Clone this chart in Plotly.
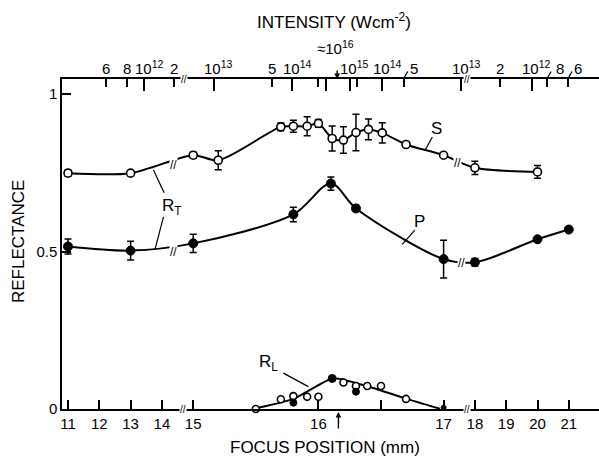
import plotly.graph_objects as go

# ---------------- data (focus position in mm, reflectance) ----------------
S_x = [11, 13, 15, 15.2, 15.70, 15.80, 15.91, 16.00, 16.11, 16.20, 16.30, 16.40, 16.51, 16.70, 17.0, 18, 20]
S_y = [0.749, 0.749, 0.806, 0.790, 0.896, 0.898, 0.898, 0.907, 0.859, 0.854, 0.878, 0.888, 0.877, 0.840, 0.806, 0.766, 0.753]
S_err = [0.010, 0.008, 0.010, 0.030, 0.012, 0.019, 0.030, 0.012, 0.040, 0.042, 0.058, 0.033, 0.032, 0, 0, 0.021, 0.020]

P_x = [11, 13, 15, 15.80, 16.10, 16.30, 17.0, 18, 20, 21]
P_y = [0.516, 0.503, 0.526, 0.618, 0.716, 0.637, 0.476, 0.466, 0.539, 0.570]
P_err = [0.024, 0.030, 0.029, 0.023, 0.021, 0.010, 0.060, 0.012, 0, 0]

RL_open_x = [15.5, 15.70, 15.80, 15.91, 16.0, 16.20, 16.30, 16.39, 16.50, 16.70]
RL_open_y = [0.0, 0.031, 0.041, 0.039, 0.039, 0.084, 0.073, 0.073, 0.073, 0.032]
RL_fill_x = [15.80, 16.11, 16.30, 17.0]
RL_fill_y = [0.020, 0.097, 0.055, 0.004]
RL_fit_x = [15.52, 15.80, 16.11, 16.23, 16.41, 16.70, 16.97]
RL_fit_y = [0.004, 0.032, 0.097, 0.090, 0.070, 0.033, 0.001]

# bottom axis ticks (mm)
bottom_ticks = [11, 12, 13, 14, 15, 16, 16.5, 17, 18, 19, 20, 21]
bottom_labels = ["11", "12", "13", "14", "15", "16", "", "17", "18", "19", "20", "21"]

# top intensity axis: focus position (mm) of each intensity tick
top_major = [13.43, 15.166, 15.79, 16.06, 16.25, 16.51, 17.56, 19.82]
top_minor = [12.21, 12.88, 14.39, 15.63, 16.0, 16.31, 16.68, 18.80, 20.30, 20.97]
top_label_pos = [12.21, 12.88, 13.43, 14.39, 15.166, 15.63, 15.79, 16.25, 16.51, 16.68, 17.56, 18.80, 19.82, 20.30, 20.97]
top_labels = ["6", "8", "10<sup>12</sup>", "2", "10<sup>13</sup>", "5", "10<sup>14</sup>",
              "10<sup>15</sup>", "10<sup>14</sup>", "5", "10<sup>13</sup>", "2", "10<sup>12</sup>", "8", "6"]
offset_labels = {16.68: 10, 20.30: 13, 20.97: 10}   # labels set aside with a slant leader


def fp(v):
    """Broken focus axis: 15-17 mm is expanded four times."""
    if isinstance(v, (list, tuple)):
        return [fp(a) for a in v]
    if v <= 15:
        return v
    if v <= 17:
        return 15 + 4 * (v - 15)
    return 23 + (v - 17)


FONT = "Liberation Sans, Arial, sans-serif"
BLACK = "black"

fig = go.Figure()

# fitted curves
fig.add_trace(go.Scatter(x=fp(S_x), y=S_y, mode="lines", line=dict(color=BLACK, width=2, shape="spline", smoothing=0.8),
                         hoverinfo="skip", showlegend=False))
fig.add_trace(go.Scatter(x=fp(P_x), y=P_y, mode="lines", line=dict(color=BLACK, width=2, shape="spline", smoothing=0.9),
                         hoverinfo="skip", showlegend=False))
fig.add_trace(go.Scatter(x=fp(RL_fit_x), y=RL_fit_y, mode="lines", line=dict(color=BLACK, width=2, shape="spline", smoothing=0.6),
                         hoverinfo="skip", showlegend=False))

err_style = dict(type="data", color=BLACK, thickness=1.5, width=3.5)

fig.add_trace(go.Scatter(x=fp(S_x), y=S_y, mode="markers", name="S",
                         error_y=dict(array=S_err, **err_style),
                         marker=dict(symbol="circle", size=8, color="white", line=dict(color=BLACK, width=1.6)),
                         cliponaxis=False, showlegend=False))
fig.add_trace(go.Scatter(x=fp(P_x), y=P_y, mode="markers", name="P",
                         error_y=dict(array=P_err, **err_style),
                         marker=dict(symbol="circle", size=9, color=BLACK, line=dict(color=BLACK, width=1)),
                         cliponaxis=False, showlegend=False))
fig.add_trace(go.Scatter(x=fp(RL_open_x), y=RL_open_y, mode="markers", name="RL open",
                         marker=dict(symbol="circle", size=7, color="white", line=dict(color=BLACK, width=1.6)),
                         cliponaxis=False, showlegend=False))
fig.add_trace(go.Scatter(x=fp(RL_fill_x), y=RL_fill_y, mode="markers", name="RL filled",
                         marker=dict(symbol="circle", size=[7, 8, 7, 5], color=BLACK, opacity=1,
                                     line=dict(color=BLACK, width=1)),
                         cliponaxis=False, showlegend=False))

# invisible trace to carry the top axis
fig.add_trace(go.Scatter(x=fp(top_label_pos), y=[0.5] * len(top_label_pos), xaxis="x2", mode="markers",
                         marker=dict(opacity=0), hoverinfo="skip", showlegend=False))

xr = [10.808, 27.965]
fig.update_layout(
    width=599, height=459,
    margin=dict(l=62, r=0, t=79, b=50, autoexpand=False),
    paper_bgcolor="white", plot_bgcolor="white",
    font=dict(family=FONT, size=14, color=BLACK),
    xaxis=dict(range=xr, showgrid=False, zeroline=False, showline=True, linecolor=BLACK, linewidth=1.5,
               ticks="inside", ticklen=9, tickwidth=1.5, tickcolor=BLACK, automargin=False,
               tickmode="array", tickvals=fp(bottom_ticks), ticktext=bottom_labels,
               tickfont=dict(family=FONT, size=15)),
    xaxis2=dict(range=xr, overlaying="x", side="top", anchor="y", showgrid=False, zeroline=False,
                showline=True, linecolor=BLACK, linewidth=1.5, automargin=False,
                ticks="inside", ticklen=12, tickwidth=1.5, tickcolor=BLACK,
                tickmode="array", tickvals=fp(top_major), showticklabels=False,
                minor=dict(tickmode="array", tickvals=fp(top_minor), ticks="inside", ticklen=8,
                           tickwidth=1.5, tickcolor=BLACK, showgrid=False)),
    yaxis=dict(range=[0, 1.048], showgrid=False, zeroline=False, showline=True, linecolor=BLACK, linewidth=1.5,
               ticks="inside", ticklen=9, tickwidth=1.5, tickcolor=BLACK, automargin=False,
               tickmode="array", tickvals=[0, 0.5, 1], ticktext=["0", "0.5", "1"],
               tickfont=dict(family=FONT, size=15)),
)

ann = []
# top intensity labels
for pos, lab in zip(top_label_pos, top_labels):
    if pos in offset_labels:
        shift = offset_labels[pos]
        ann.append(dict(x=fp(pos), y=1, xref="x", yref="paper", text="", showarrow=True, arrowhead=0,
                        arrowwidth=1.3, arrowcolor=BLACK, ax=5, ay=-9))
    else:
        shift = 5 if lab.startswith("10") else 0
    ann.append(dict(x=fp(pos), y=1, xref="x", yref="paper", text=lab, showarrow=False,
                    xanchor="center", yanchor="bottom", xshift=shift, yshift=0,
                    font=dict(family=FONT, size=15)))

# titles
ann.append(dict(x=0.5065, y=1.176, xref="paper", yref="paper", text="INTENSITY (Wcm<sup>-2</sup>)",
                xanchor="center", yanchor="middle", showarrow=False, font=dict(family=FONT, size=17)))
ann.append(dict(x=0.489, y=-0.118, xref="paper", yref="paper", text="FOCUS POSITION (mm)",
                xanchor="center", yanchor="middle", showarrow=False, font=dict(family=FONT, size=17)))
ann.append(dict(x=-0.082, y=0.509, xref="paper", yref="paper", text="REFLECTANCE", textangle=-90,
                xanchor="center", yanchor="middle", showarrow=False, font=dict(family=FONT, size=17)))

# approx 10^16 marker and arrows
ann.append(dict(x=fp(16.15), y=1.094, xref="x", yref="paper", text="\u224810<sup>16</sup>", showarrow=False,
                xanchor="center", yanchor="middle", xshift=-2, font=dict(family=FONT, size=15)))
ann.append(dict(x=fp(16.15), y=1.0, xref="x", yref="paper", text="", showarrow=True, arrowhead=2,
                arrowsize=0.8, arrowwidth=1.4, arrowcolor=BLACK, ax=0, ay=-10))
ann.append(dict(x=fp(16.16), y=-0.009, xref="x", yref="paper", text="", showarrow=True, arrowhead=2,
                arrowsize=0.8, arrowwidth=1.4, arrowcolor=BLACK, ax=0, ay=18))

# series labels
ann.append(dict(x=fp(14.32), y=0.641, xref="x", yref="y", text="R<sub>T</sub>", showarrow=False,
                font=dict(family=FONT, size=17)))
ann.append(dict(x=fp(16.945), y=0.891, xref="x", yref="y", text="S", showarrow=False, font=dict(family=FONT, size=17)))
ann.append(dict(x=fp(16.81), y=0.595, xref="x", yref="y", text="P", showarrow=False, font=dict(family=FONT, size=17)))
ann.append(dict(x=fp(15.60), y=0.146, xref="x", yref="y", text="R<sub>L</sub>", showarrow=False,
                font=dict(family=FONT, size=17)))

# axis / curve break marks
axis_breaks = [(14.66, 0), (17.75, 0), (14.71, 1.048), (17.75, 1.048)]
curve_breaks = [(14.36, 0.775), (17.44, 0.782), (14.36, 0.499), (17.58, 0.464)]
for bx, by in axis_breaks:
    ann.append(dict(x=fp(bx), y=by, xref="x", yref="y", text="//", showarrow=False, bgcolor="white",
                    borderpad=0, font=dict(family=FONT, size=10)))
for bx, by in curve_breaks:
    ann.append(dict(x=fp(bx), y=by, xref="x", yref="y", text="//", showarrow=False, bgcolor="white",
                    borderpad=0, font=dict(family=FONT, size=12)))

fig.update_layout(annotations=ann)

# leader lines from labels to curves
leaders = [((14.07, 0.687), (13.73, 0.759)), ((14.05, 0.610), (13.78, 0.507)),
           ((16.91, 0.864), (16.85, 0.820)), ((16.77, 0.568), (16.67, 0.523)),
           ((15.72, 0.114), (15.92, 0.071))]
for (x0, y0), (x1, y1) in leaders:
    fig.add_shape(type="line", xref="x", yref="y", x0=fp(x0), y0=y0, x1=fp(x1), y1=y1,
                  line=dict(color=BLACK, width=1.2))

fig.write_html("out.html", config={"displayModeBar": False},
               post_script="document.body.style.margin='0px';")
